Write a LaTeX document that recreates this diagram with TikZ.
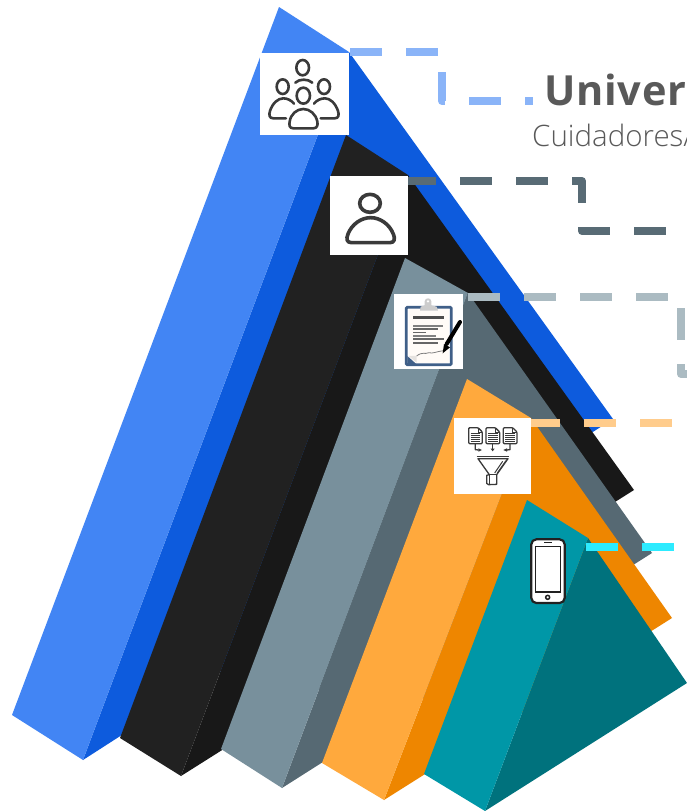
\documentclass[tikz,border=0pt]{standalone}
\usepackage{fontspec}
\setmainfont{Open Sans}
\newfontfamily\oslight{Open Sans Light}
\newfontfamily\ostitle[LetterSpace=2]{Open Sans Bold}
\definecolor{blueA}{HTML}{4285F4}
\definecolor{blueB}{HTML}{0D5BDD}
\definecolor{blackA}{HTML}{212121}
\definecolor{blackB}{HTML}{181818}
\definecolor{grayA}{HTML}{78909C}
\definecolor{grayB}{HTML}{566973}
\definecolor{orangeA}{HTML}{FFA93D}
\definecolor{orangeB}{HTML}{EE8600}
\definecolor{tealA}{HTML}{0097A7}
\definecolor{tealB}{HTML}{00727D}
\definecolor{lnBlue}{HTML}{8AB4F8}
\definecolor{lnDark}{HTML}{586B75}
\definecolor{lnGray}{HTML}{ABBBC2}
\definecolor{lnOrange}{HTML}{FFCC8C}
\definecolor{lnCyan}{HTML}{2DEBFF}
\definecolor{txtGray}{HTML}{595959}
\definecolor{iconDark}{HTML}{3A3A3A}
\definecolor{navyBoard}{HTML}{3F5F88}
\tikzset{
  iconbox/.style={fill=white,draw=none,inner sep=0pt,outer sep=0pt,rectangle},
  dashline/.style={line width=8pt,line join=round,dash pattern=on 32pt off 24pt},
  people/.style={draw=iconDark,line width=2.6pt,line cap=round,line join=round},
  thinglyph/.style={draw=iconDark,line width=1.3pt,line join=round},
}
\begin{document}
\begin{tikzpicture}[x=1pt,y=-1pt]
\clip (0,0) rectangle (687,811);
\fill[white] (0,0) rectangle (687,811);
% pyramids
\fill[blueB] (349,52) -- (613,419) -- (83,760) -- cycle;
\fill[blueA] (279,7) -- (12,715) -- (83,760) -- (349,52) -- cycle;
\fill[blackB] (408,175) -- (634,490) -- (181,776) -- cycle;
\fill[blackA] (346,135) -- (120,738) -- (181,776) -- (408,175) -- cycle;
\fill[grayB] (468,293) -- (652,553) -- (282,788) -- cycle;
\fill[grayA] (405,258) -- (221,749) -- (282,788) -- (468,293) -- cycle;
\fill[orangeB] (531,418) -- (672,618) -- (384,800) -- cycle;
\fill[orangeA] (467,379) -- (322,763) -- (384,800) -- (531,418) -- cycle;
\fill[tealB] (588,538) -- (687,683) -- (485,811) -- cycle;
\fill[tealA] (527,500) -- (424,774) -- (485,811) -- (588,538) -- cycle;
% icon boxes
\node[iconbox,minimum width=89pt,minimum height=82pt] (icon1) at (304.5,94) {};
\node[iconbox,minimum width=78pt,minimum height=79pt] (icon2) at (369,215.5) {};
\node[iconbox,minimum width=69pt,minimum height=75pt] (icon3) at (428.5,331.5) {};
\node[iconbox,minimum width=77pt,minimum height=76pt] (icon4) at (492.5,456) {};
\node[inner sep=0pt,minimum width=34pt,minimum height=64pt] (icon5) at (548,571) {};
% connector way points
\coordinate (b0) at (350,52);
\coordinate (b1) at (442,52);
\coordinate (b2) at (442,101);
\coordinate (b3) at (533,101);
\coordinate (d0) at (408,181);
\coordinate (d1) at (582,181);
\coordinate (d2) at (582,231);
\coordinate (d3) at (700,231);
\coordinate (g0) at (463,297);
\coordinate (g1) at (681,297);
\coordinate (g2) at (681,374);
\coordinate (g3) at (720,374);
\coordinate (o0) at (531,423);
\coordinate (o1) at (700,423);
\coordinate (c0) at (565,547);
\coordinate (c1) at (700,547);
% connectors
\draw[dashline,draw=lnBlue] (b0) -- (b1) -- (b2) -- (b3);
\draw[dashline,draw=lnDark,dash phase=4pt] (d0) -- (d1) -- (d2) -- (d3);
\draw[dashline,draw=lnGray,dash phase=51pt] (g0) -- (g1) -- (g2) -- (g3);
\draw[dashline,draw=lnOrange,dash phase=3pt] (o0) -- (o1);
\draw[dashline,draw=lnCyan,dash phase=35pt] (c0) -- (c1);
% title texts
\node[anchor=base west,inner sep=0pt,text=txtGray,font=\fontsize{41.5}{46}\selectfont\ostitle] (title) at (544,105) {Univers};
\node[anchor=base west,inner sep=0pt,text=txtGray,font=\fontsize{29.5}{34}\selectfont\oslight] (subtitle) at (532,146) {Cuidadores/};
% icon 1: people
\begin{scope}[shift={(260,53)},x=.3333pt,y=-.3333pt]
\draw[people] (128,44) ellipse [x radius=19,y radius=23];
\draw[people] (106,89) .. controls (118,77) and (144,77) .. (157,89);
\draw[people] (68,101) ellipse [x radius=18,y radius=22];
\draw[people] (192,101) ellipse [x radius=18,y radius=22];
\draw[people] (130,128) ellipse [x radius=20,y radius=24];
\draw[people] (78,196) -- (40,196) .. controls (28,196) and (26,186) .. (30,174) .. controls (38,150) and (54,136) .. (70,136) .. controls (82,136) and (94,142) .. (102,152);
\draw[people] (182,196) -- (224,196) .. controls (236,196) and (238,186) .. (234,174) .. controls (226,150) and (210,136) .. (195,136) .. controls (182,136) and (170,142) .. (162,152);
\draw[people] (100,226) -- (160,226) .. controls (172,226) and (174,216) .. (172,206) .. controls (168,184) and (150,168) .. (130,168) .. controls (110,168) and (92,184) .. (89,206) .. controls (87,216) and (88,226) .. (100,226) -- cycle;
\end{scope}
% icon 2: person
\begin{scope}[shift={(330,176)},x=.3333pt,y=-.3333pt]
\draw[people,line width=3.6pt] (120,82) ellipse [x radius=31,y radius=27];
\draw[people,line width=3.6pt] (64,200) -- (180,200) .. controls (194,200) and (196,188) .. (190,174) .. controls (178,144) and (150,125) .. (122,125) .. controls (94,125) and (66,144) .. (54,174) .. controls (48,188) and (50,200) .. (64,200) -- cycle;
\end{scope}
% icon 3: clipboard
\begin{scope}[shift={(394,294)},x=.3333pt,y=-.3333pt]
\draw[navyBoard,line width=2.8pt,fill=white,rounded corners=1pt] (37,40) rectangle (172,212);
\fill[white!97!orange] (44,46) rectangle (165,206);
\fill[navyBoard] (40,186) -- (68,211) -- (40,211) -- cycle;
\fill[white!97!orange!80!gray] (44,186) -- (68,186) -- (68,206) -- cycle;
\fill[gray!40] (78,50) -- (80,38) -- (92,34) -- (92,22) .. controls (92,10) and (112,10) .. (112,22) -- (112,34) -- (128,38) -- (132,50) -- cycle;
\fill[white] (102,22) circle [radius=4];
\draw[black!70,line width=3.2pt] (58,70) -- (151,70);
\draw[gray,line width=1.2pt] (58,96) -- (148,96);
\draw[black!60,line width=1.8pt] (58,106) -- (132,106);
\draw[black!60,line width=1.5pt] (58,116) -- (95,116);
\draw[black!50,line width=1.2pt] (58,126) -- (125,126);
\draw[black!60,line width=1.8pt] (58,136) -- (150,136);
\draw[black!60,line width=1.8pt] (58,146) -- (132,146);
\draw[gray,line width=.8pt] (68,186) .. controls (85,172) and (92,182) .. (105,176) .. controls (115,180) and (130,172) .. (148,170);
\draw[black,line width=4pt,line cap=round] (198,84) -- (158,150);
\fill[black] (150,150) -- (168,160) -- (146,178) -- cycle;
\end{scope}
% icon 4: documents into funnel
\begin{scope}[shift={(454,418)},x=.3333pt,y=-.3333pt]
\foreach \dx in {0,52,104} {
\begin{scope}[xshift=\dx*.3333pt]
\draw[thinglyph,fill=white,rounded corners=1pt] (44,29) -- (72,29) -- (85,42) -- (85,77) -- (44,77) -- cycle;
\draw[iconDark,line width=.9pt] (72,29) -- (72,42) -- (85,42);
\foreach \yy in {47,53,59,65,71} \draw[iconDark,line width=1.1pt] (50,\yy) -- (79,\yy);
\end{scope}
}
\draw[thinglyph] (64,78) -- (64,95) -- (74,96);
\fill[iconDark] (73,91) -- (84,96) -- (73,101) -- cycle;
\draw[thinglyph] (116,78) -- (116,92);
\fill[iconDark] (110,92) -- (122,92) -- (116,100) -- cycle;
\draw[thinglyph] (168,78) -- (168,95) -- (158,96);
\fill[iconDark] (159,91) -- (148,96) -- (159,101) -- cycle;
\draw[iconDark,line width=1.6pt] (68,116) -- (165,116);
\draw[thinglyph,fill=white] (72,122) -- (162,122) -- (128,170) -- (128,199) -- (104,200) -- (98,196) -- (98,172) -- (106,170) -- cycle;
\draw[thinglyph] (106,170) -- (128,170);
\draw[thinglyph] (106,170) -- (106,199);
\draw[iconDark,line width=1pt] (146,130) -- (122,165);
\draw[iconDark,line width=1pt] (156,128) -- (130,165);
\end{scope}
% icon 5: phone
\begin{scope}[shift={(525,535)},x=.3333pt,y=-.3333pt]
\draw[draw=blackA,fill=white,line width=2.2pt,rounded corners=5pt] (19,13) rectangle (119,204);
\draw[draw=blackA,fill=white,line width=1.6pt] (32,35) rectangle (107,171);
\draw[blackA,line width=1.6pt] (58,23) -- (80,23);
\draw[blackA,line width=1.5pt] (68,187) circle [radius=6];
\end{scope}
\end{tikzpicture}
\end{document}
